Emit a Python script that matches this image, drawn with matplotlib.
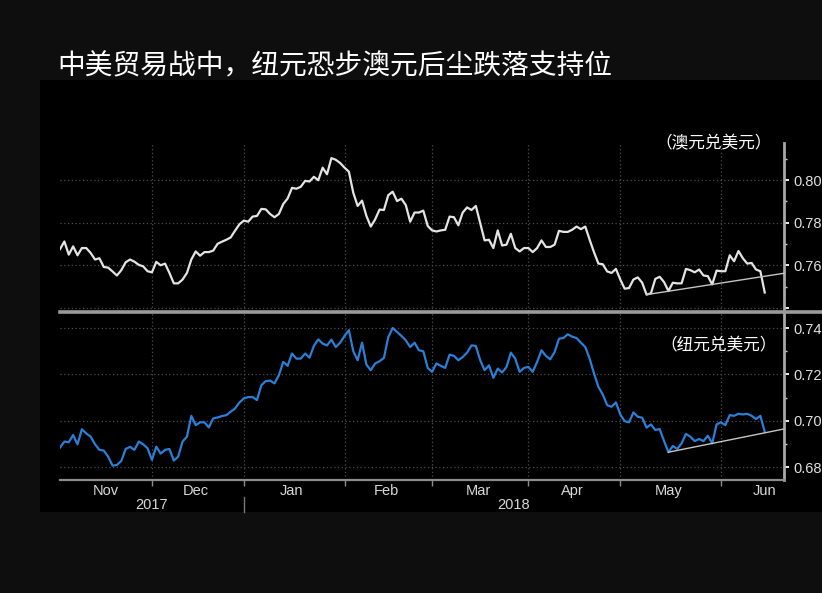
import numpy as np
import pandas as pd
import matplotlib
matplotlib.use("Agg")
import matplotlib.pyplot as plt
from matplotlib.lines import Line2D
from matplotlib.patches import Rectangle
from matplotlib.ticker import FixedLocator, NullFormatter
import matplotlib.transforms as mtransforms

# ---------------- data ----------------
start_date = "2017-11-02"
end_date = "2018-06-15"
dates = pd.bdate_range(start_date, end_date)

aud_usd = [
    0.7676, 0.7712, 0.7650, 0.7689, 0.7647, 0.7681, 0.7681, 0.7658, 0.7627, 0.7633,
    0.7592, 0.7589, 0.7571, 0.7552, 0.7577, 0.7614, 0.7627, 0.7617, 0.7602, 0.7595,
    0.7572, 0.7567, 0.7616, 0.7600, 0.7608, 0.7564, 0.7515, 0.7515, 0.7533, 0.7564,
    0.7627, 0.7665, 0.7645, 0.7662, 0.7662, 0.7669, 0.7701, 0.7711, 0.7720, 0.7731,
    0.7763, 0.7793, 0.7810, 0.7805, 0.7829, 0.7832, 0.7865, 0.7863, 0.7841, 0.7826,
    0.7841, 0.7888, 0.7914, 0.7964, 0.7960, 0.7969, 0.7997, 0.7994, 0.8016, 0.8000,
    0.8059, 0.8028, 0.8104, 0.8096, 0.8081, 0.8059, 0.8040, 0.7941, 0.7879, 0.7904,
    0.7832, 0.7782, 0.7816, 0.7862, 0.7860, 0.7930, 0.7946, 0.7902, 0.7913, 0.7883,
    0.7805, 0.7848, 0.7848, 0.7857, 0.7785, 0.7764, 0.7759, 0.7764, 0.7767, 0.7829,
    0.7826, 0.7788, 0.7848, 0.7872, 0.7860, 0.7879, 0.7798, 0.7717, 0.7720, 0.7681,
    0.7764, 0.7693, 0.7697, 0.7748, 0.7681, 0.7665, 0.7681, 0.7681, 0.7662, 0.7681,
    0.7717, 0.7686, 0.7686, 0.7697, 0.7762, 0.7757, 0.7757, 0.7767, 0.7782, 0.7770,
    0.7782, 0.7720, 0.7661, 0.7608, 0.7605, 0.7571, 0.7564, 0.7583, 0.7533, 0.7490,
    0.7493, 0.7533, 0.7543, 0.7518, 0.7462, 0.7468, 0.7536, 0.7546, 0.7521, 0.7479,
    0.7518, 0.7515, 0.7515, 0.7583, 0.7577, 0.7567, 0.7580, 0.7552, 0.7549, 0.7510,
    0.7575, 0.7572, 0.7572, 0.7647, 0.7619, 0.7667, 0.7633, 0.7608, 0.7611, 0.7580,
    0.7572, 0.7472,
]

nzd_usd = [
    0.6884, 0.6910, 0.6907, 0.6938, 0.6898, 0.6963, 0.6945, 0.6931, 0.6898, 0.6874,
    0.6871, 0.6845, 0.6806, 0.6809, 0.6826, 0.6878, 0.6887, 0.6874, 0.6910, 0.6898,
    0.6881, 0.6831, 0.6888, 0.6858, 0.6874, 0.6878, 0.6828, 0.6845, 0.6910, 0.6931,
    0.7021, 0.6981, 0.6993, 0.6993, 0.6971, 0.7010, 0.7014, 0.7020, 0.7024, 0.7039,
    0.7053, 0.7079, 0.7096, 0.7102, 0.7102, 0.7089, 0.7153, 0.7171, 0.7173, 0.7161,
    0.7196, 0.7254, 0.7237, 0.7290, 0.7268, 0.7268, 0.7290, 0.7272, 0.7323, 0.7351,
    0.7333, 0.7325, 0.7350, 0.7318, 0.7337, 0.7366, 0.7391, 0.7300, 0.7261, 0.7337,
    0.7242, 0.7218, 0.7247, 0.7257, 0.7271, 0.7361, 0.7400, 0.7383, 0.7366, 0.7347,
    0.7318, 0.7337, 0.7304, 0.7300, 0.7228, 0.7211, 0.7247, 0.7237, 0.7228, 0.7285,
    0.7280, 0.7261, 0.7275, 0.7294, 0.7325, 0.7323, 0.7261, 0.7218, 0.7239, 0.7185,
    0.7225, 0.7208, 0.7232, 0.7294, 0.7268, 0.7211, 0.7228, 0.7232, 0.7211, 0.7254,
    0.7304, 0.7280, 0.7265, 0.7297, 0.7354, 0.7357, 0.7373, 0.7363, 0.7357, 0.7337,
    0.7318, 0.7268, 0.7204, 0.7146, 0.7113, 0.7067, 0.7060, 0.7079, 0.7027, 0.6998,
    0.6993, 0.7036, 0.7017, 0.7013, 0.6970, 0.6984, 0.6960, 0.6964, 0.6912, 0.6864,
    0.6891, 0.6878, 0.6902, 0.6943, 0.6931, 0.6912, 0.6921, 0.6912, 0.6935, 0.6902,
    0.6984, 0.6993, 0.6981, 0.7024, 0.7021, 0.7030, 0.7027, 0.7030, 0.7021, 0.7007,
    0.7021, 0.6952,
]

aud_support_dates = ["2018-05-09", "2018-05-30"]
nzd_support_dates = ["2018-05-16", "2018-05-30"]

title = "中美贸易战中，纽元恐步澳元后尘跌落支持位"
aud_label = "（澳元兑美元）"
nzd_label = "（纽元兑美元）"
month_names = ["Nov", "Dec", "Jan", "Feb", "Mar", "Apr", "May", "Jun"]
month_starts = ["2017-11-01", "2017-12-01", "2018-01-01", "2018-02-01",
                "2018-03-01", "2018-04-01", "2018-05-01", "2018-06-01"]
month_ends = ["2017-11-30", "2017-12-31", "2018-01-31", "2018-02-28",
              "2018-03-31", "2018-04-30", "2018-05-31", "2018-06-30"]
year_labels = ["2017", "2018"]
aud_ticks = [0.74, 0.76, 0.78, 0.80]
aud_tick_labels = ["", "0.76", "0.78", "0.80"]
aud_minor = [0.75, 0.77, 0.79, 0.81]
nzd_ticks = [0.68, 0.70, 0.72, 0.74]
nzd_tick_labels = ["0.68", "0.70", "0.72", "0.74"]
nzd_minor = [0.69, 0.71, 0.73]

# ---------------- helpers ----------------
x = np.arange(len(dates))


def bidx(d):
    return int(np.busday_count(np.datetime64(start_date), np.datetime64(d, "D")))


boundaries = [bidx(np.busday_offset(np.datetime64(m), 0, roll="forward")) for m in month_starts[1:]]
month_centers = []
for s, e in zip(month_starts, month_ends):
    days = pd.bdate_range(s, e)
    idx = [bidx(d.strftime("%Y-%m-%d")) for d in days]
    month_centers.append(float(np.mean(idx)))
month_centers[0] += 1.0  # first month label sits in the visible part

xmin, xmax = 0, 165.4

# ---------------- figure ----------------
W, H = 822, 593
fig = plt.figure(figsize=(W / 100, H / 100), dpi=100, facecolor="#0e0e0e")


def fx(px):
    return px / W


def fy(py):
    return 1 - py / H


bg = Rectangle((fx(40), fy(512)), 1 - fx(40), fy(80) - fy(512),
               transform=fig.transFigure, facecolor="black",
               edgecolor="none", zorder=-10)
fig.patches.append(bg)

fig.text(fx(57), fy(66), title, color="white", fontsize=20,
         family=["Noto Sans CJK SC", "DejaVu Sans"], va="center", ha="left")

left, right = fx(60), fx(784)
ax1 = fig.add_axes([left, fy(311), right - left, fy(143) - fy(311)])
ax2 = fig.add_axes([left, fy(480), right - left, fy(313) - fy(480)])

grid_kw = dict(color="#4d4d4d", linestyle=(0, (1, 2)), linewidth=0.9)

for ax in (ax1, ax2):
    ax.set_facecolor("black")
    ax.set_xlim(xmin, xmax)
    for s in ("left", "top", "bottom"):
        ax.spines[s].set_visible(False)
    ax.spines["right"].set_color("#a8a8a8")
    ax.spines["right"].set_linewidth(2)
    ax.yaxis.tick_right()
    ax.tick_params(axis="y", which="major", direction="out", length=3.5, width=1.3,
                   colors="white", labelcolor="#e0e0e0", labelsize=10.5, pad=3)
    ax.tick_params(axis="y", which="minor", direction="out", length=2, width=1,
                   colors="#cccccc")
    ax.xaxis.set_major_locator(FixedLocator(boundaries))
    ax.grid(True, which="major", axis="both", **grid_kw)
    ax.set_axisbelow(True)

# top panel: AUD
ax1.set_ylim(0.7385, 0.8175)
ax1.yaxis.set_major_locator(FixedLocator(aud_ticks))
ax1.yaxis.set_minor_locator(FixedLocator(aud_minor))
ax1.set_yticklabels(aud_tick_labels, family=["Liberation Sans", "DejaVu Sans"])
ax1.tick_params(axis="x", which="both", length=0, labelbottom=False)
ax1.plot(x, aud_usd, color="#e4e4e4", linewidth=1.6, zorder=3)
a0, a1 = bidx(aud_support_dates[0]), bidx(aud_support_dates[1])
slope = (aud_usd[a1] - aud_usd[a0]) / (a1 - a0)
ax1.plot([a0, xmax], [aud_usd[a0], aud_usd[a0] + slope * (xmax - a0)],
         color="#c4c4c4", linewidth=1.0, zorder=4, clip_on=False)
ax1.text(0.983, 0.995, aud_label, transform=ax1.transAxes, ha="right", va="center",
         color="white", fontsize=12, family=["Noto Sans CJK SC", "DejaVu Sans"])

# bottom panel: NZD
ax2.set_ylim(0.6744, 0.7465)
ax2.yaxis.set_major_locator(FixedLocator(nzd_ticks))
ax2.yaxis.set_minor_locator(FixedLocator(nzd_minor))
ax2.set_yticklabels(nzd_tick_labels, family=["Liberation Sans", "DejaVu Sans"])
ax2.plot(x, nzd_usd, color="#2a7fd6", linewidth=1.6, zorder=3)
n0, n1 = bidx(nzd_support_dates[0]), bidx(nzd_support_dates[1])
slope = (nzd_usd[n1] - nzd_usd[n0]) / (n1 - n0)
ax2.plot([n0, xmax], [nzd_usd[n0], nzd_usd[n0] + slope * (xmax - n0)],
         color="#c4c4c4", linewidth=1.0, zorder=4, clip_on=False)
ax2.text(0.99, 0.80, nzd_label, transform=ax2.transAxes, ha="right", va="center",
         color="white", fontsize=12, family=["Noto Sans CJK SC", "DejaVu Sans"])

ax2.spines["bottom"].set_visible(True)
ax2.spines["bottom"].set_color("#8c8c8c")
ax2.spines["bottom"].set_linewidth(1.6)
ax2.xaxis.set_minor_locator(FixedLocator(month_centers))
ax2.xaxis.set_major_formatter(NullFormatter())
ax2.set_xticklabels(month_names, minor=True, family=["Liberation Sans", "DejaVu Sans"])
ax2.tick_params(axis="x", which="major", direction="out", length=4, width=1,
                colors="#8c8c8c")
ax2.tick_params(axis="x", which="minor", length=0, pad=3, labelsize=10.5,
                labelcolor="#d8d8d8")

# year labels and divider
trans = mtransforms.blended_transform_factory(ax2.transData, fig.transFigure)
jan = boundaries[1]
fig.text((xmin + jan) / 2, fy(505), year_labels[0], transform=trans,
         ha="center", va="center", color="#d8d8d8", fontsize=10.5,
         family=["Liberation Sans", "DejaVu Sans"])
fig.text((jan + xmax) / 2, fy(505), year_labels[1], transform=trans,
         ha="center", va="center", color="#d8d8d8", fontsize=10.5,
         family=["Liberation Sans", "DejaVu Sans"])
fig.lines.append(Line2D([jan, jan], [fy(497), fy(512)], transform=trans,
                        color="#7a7a7a", linewidth=1))

# panel separator
fig.lines.append(Line2D([fx(60), 1.0], [fy(312), fy(312)], transform=fig.transFigure,
                        color="#9a9a9a", linewidth=2.6, zorder=10))

fig.savefig("out.png", dpi=100, facecolor=fig.get_facecolor())
